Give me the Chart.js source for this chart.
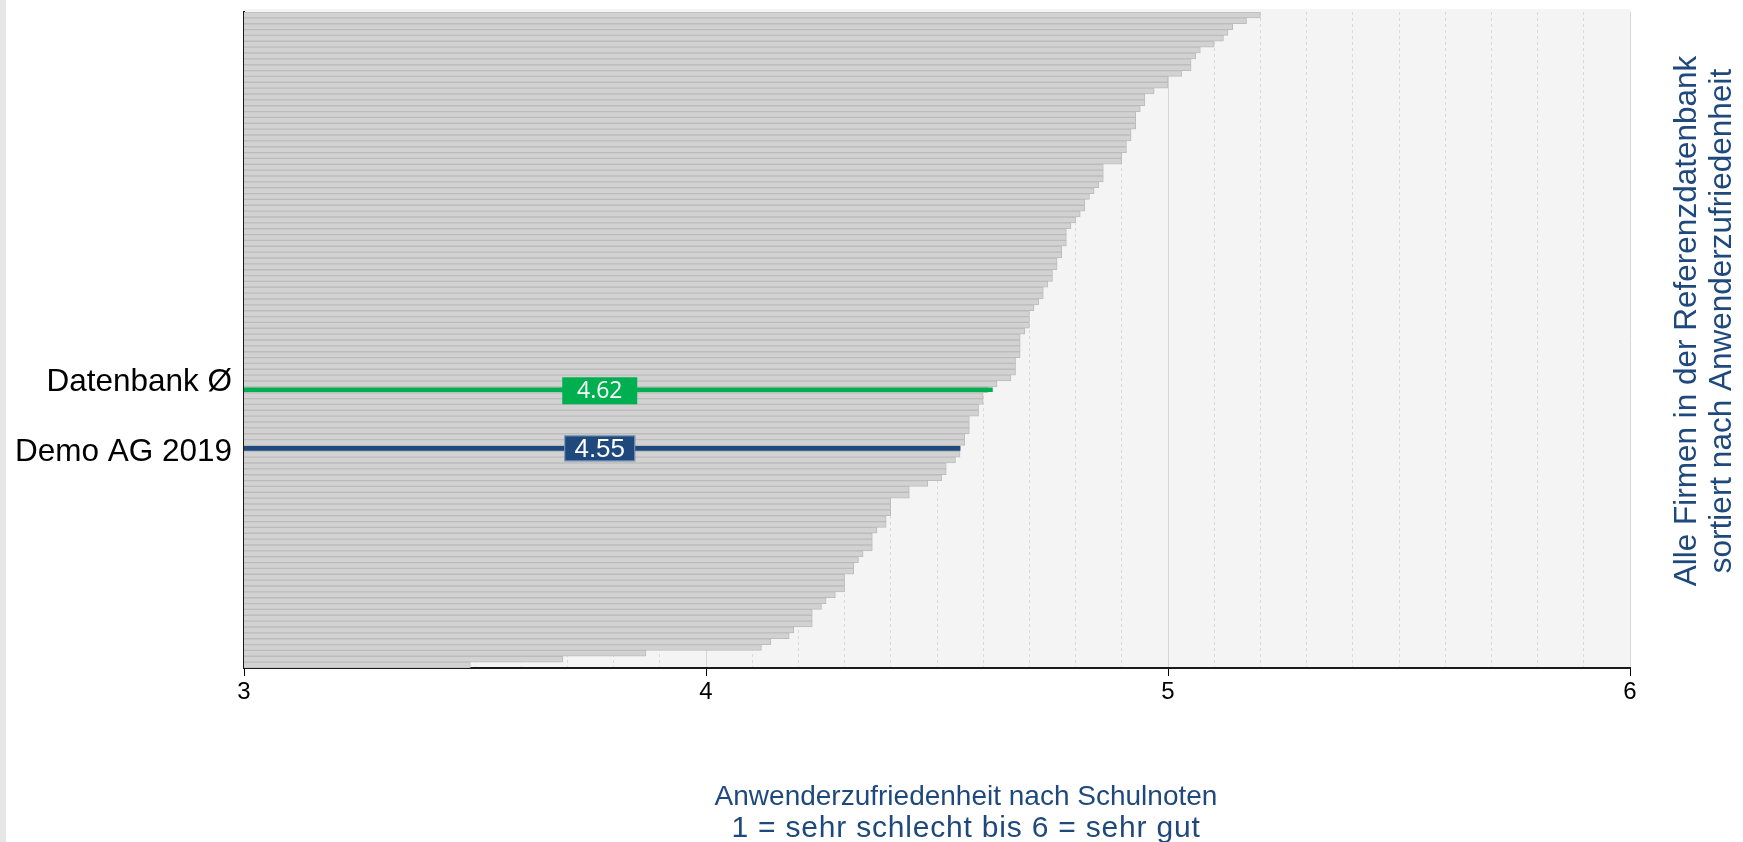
<!DOCTYPE html>
<html lang="de">
<head>
<meta charset="utf-8">
<title>Anwenderzufriedenheit</title>
<script src="https://cdn.jsdelivr.net/npm/chart.js@4.4.1/dist/chart.umd.min.js"></script>
<style>
    html, body { margin: 0; padding: 0; background: #fff; overflow: hidden; }
    #rand { position: absolute; left: 0; top: 0; width: 6px; height: 842px; background: #e6e6e6; }
    canvas { display: block; }
</style>
</head>
<body>
<div id="rand"></div>
<canvas id="graficoZufriedenheit" width="1743" height="842"></canvas>
<script>
// Werte aller Firmen der Referenzdatenbank, absteigend sortiert (oben -> unten)
const werte = [
    5.20, 5.17, 5.14, 5.13, 5.12, 5.10, 5.07, 5.06, 5.05, 5.05,
    5.03, 5.00, 5.00, 4.97, 4.95, 4.95, 4.94, 4.93, 4.93, 4.93,
    4.92, 4.92, 4.91, 4.91, 4.90, 4.90, 4.86, 4.86, 4.86, 4.85,
    4.84, 4.83, 4.82, 4.82, 4.81, 4.80, 4.79, 4.78, 4.78, 4.78,
    4.77, 4.77, 4.76, 4.76, 4.75, 4.75, 4.74, 4.73, 4.73, 4.72,
    4.71, 4.70, 4.70, 4.70, 4.69, 4.68, 4.68, 4.68, 4.68, 4.67,
    4.67, 4.67, 4.66, 4.63, 4.61, 4.60, 4.60, 4.59, 4.59, 4.57,
    4.57, 4.57, 4.56, 4.56, 4.55, 4.55, 4.54, 4.52, 4.52, 4.51,
    4.48, 4.44, 4.44, 4.40, 4.40, 4.40, 4.39, 4.39, 4.37, 4.36,
    4.36, 4.36, 4.34, 4.33, 4.32, 4.32, 4.30, 4.30, 4.30, 4.28,
    4.26, 4.25, 4.23, 4.23, 4.23, 4.19, 4.18, 4.14, 4.12, 3.87,
    3.69, 3.49
];

const datenbankSchnitt = 4.62;
const demoWert = 4.55;
const zeileDatenbank = 64;   // Zeile der Ø-Linie
const zeileDemo = 74;        // Zeile der Demo AG
const zeileLabelDatenbank = 62;

const xTicks = [3, 4, 5, 6];
const xTitel = ['Anwenderzufriedenheit nach Schulnoten', '1 = sehr schlecht bis 6 = sehr gut'];
const rechterTitel = ['Alle Firmen in der Referenzdatenbank', 'sortiert nach Anwenderzufriedenheit'];

// kategorien (leer bis auf die zwei markierten zeilen)
const kategorien = werte.map((v, i) => {
    if (i === zeileLabelDatenbank) return 'Datenbank Ø';
    if (i === zeileDemo) return 'Demo AG 2019';
    return '';
});

const linieDatenbank = werte.map((v, i) => i === zeileDatenbank ? datenbankSchnitt : null);
const linieDemo = werte.map((v, i) => i === zeileDemo ? demoWert : null);

const BLAU = '#1f497d';
const GRUEN = '#00b050';

const hintergrund = {
    id: 'hintergrund',
    beforeDraw(chart) {
        const { ctx, chartArea: a } = chart;
        ctx.save();
        ctx.fillStyle = '#f4f4f4';
        ctx.fillRect(a.left, a.top - 3, a.right - a.left, a.bottom - a.top + 3);
        ctx.restore();
    }
};

const wertLabels = {
    id: 'wertLabels',
    afterDatasetsDraw(chart) {
        const { ctx } = chart;
        const xs = chart.scales.x, ys = chart.scales.y;
        const boxen = [
            { text: datenbankSchnitt.toFixed(2), zeile: zeileDatenbank, farbe: GRUEN, w: 75, h: 27, font: '23px "Open Sans"', dy: 1 },
            { text: demoWert.toFixed(2), zeile: zeileDemo, farbe: BLAU, w: 71, h: 26, font: '26px "Liberation Sans"', dy: 0 }
        ];
        const cx = xs.getPixelForValue(3.77);
        ctx.save();
        boxen.forEach(b => {
            const cy = ys.getPixelForValue(b.zeile) + b.dy;
            ctx.fillStyle = b.farbe;
            ctx.fillRect(cx - b.w / 2, cy - b.h / 2, b.w, b.h);
            if (b.farbe === BLAU) {
                ctx.strokeStyle = 'rgba(200,215,235,0.6)';
                ctx.lineWidth = 1;
                ctx.strokeRect(cx - b.w / 2 + 0.5, cy - b.h / 2 + 0.5, b.w - 1, b.h - 1);
            }
            ctx.fillStyle = '#fff';
            ctx.font = b.font;
            ctx.textAlign = 'center';
            ctx.textBaseline = 'middle';
            ctx.fillText(b.text, cx, cy + 1);
        });
        ctx.restore();
    }
};

const titel = {
    id: 'titel',
    afterDraw(chart) {
        const { ctx, chartArea: a, height } = chart;
        ctx.save();
        ctx.fillStyle = BLAU;
        ctx.textAlign = 'center';
        ctx.textBaseline = 'middle';
        // titulo do eixo x
        ctx.font = '28px "Liberation Sans"';
        const mitte = (a.left + a.right) / 2 + 29;
        ctx.fillText(xTitel[0], mitte, height - 45);
        ctx.font = '30px "Liberation Sans"';
        ctx.letterSpacing = '0.8px';
        ctx.fillText(xTitel[1], mitte, height - 13);
        ctx.letterSpacing = '0px';
        // titulo vertical à direita
        ctx.font = '31.5px "Liberation Sans"';
        ctx.translate(a.right + 57, 321);
        ctx.rotate(-Math.PI / 2);
        ctx.fillText(rechterTitel[0], 0, 0);
        ctx.fillText(rechterTitel[1], 0, 35);
        ctx.restore();
    }
};

const istGanz = v => Math.abs(v - Math.round(v)) < 1e-6;

const ctx = document.getElementById('graficoZufriedenheit').getContext('2d');
const grafico = new Chart(ctx, {
    type: 'bar',
    data: {
        labels: kategorien,
        datasets: [{
            label: 'Datenbank Ø',
            data: linieDatenbank,
            backgroundColor: GRUEN,
            barThickness: 4,
            grouped: false,
            order: 0
        }, {
            label: 'Demo AG 2019',
            data: linieDemo,
            backgroundColor: BLAU,
            barThickness: 4,
            grouped: false,
            order: 1
        }, {
            label: 'Firmen',
            data: werte,
            backgroundColor: '#d2d2d2',
            borderColor: '#bcbcbc',
            borderWidth: 1,
            barPercentage: 1,
            categoryPercentage: 1,
            grouped: false,
            order: 2
        }]
    },
    options: {
        indexAxis: 'y',
        responsive: false,
        animation: false,
        events: [],
        layout: {
            padding: { top: 12, right: 113, bottom: 0, left: 0 }
        },
        plugins: {
            legend: { display: false },
            tooltip: { enabled: false }
        },
        scales: {
            x: {
                type: 'linear',
                min: 3,
                max: 6,
                afterFit: s => { s.height = 174; },
                ticks: {
                    stepSize: 0.1,
                    autoSkip: false,
                    maxRotation: 0,
                    padding: 2,
                    color: '#000',
                    font: { family: 'Liberation Sans', size: 24 },
                    callback: v => (istGanz(v) && xTicks.includes(Math.round(v))) ? String(Math.round(v)) : ''
                },
                grid: {
                    color: c => istGanz(c.tick.value) ? '#d6d6d6' : '#dadada',
                    lineWidth: 1,
                    tickLength: 8,
                    tickColor: c => istGanz(c.tick.value) ? '#000' : 'transparent'
                },
                border: {
                    display: true,
                    color: '#1a1a1a',
                    width: 2,
                    dash: c => (c.tick && !istGanz(c.tick.value)) ? [3, 3] : []
                }
            },
            y: {
                type: 'category',
                afterFit: s => { s.width = 244; s.paddingTop = 0; s.paddingBottom = 0; },
                ticks: {
                    autoSkip: false,
                    padding: 12,
                    labelOffset: 4,
                    color: '#000',
                    font: { family: 'Liberation Sans', size: 31.5 }
                },
                grid: { display: false, drawTicks: false },
                border: { display: true, color: '#1a1a1a', width: 2 }
            }
        }
    },
    plugins: [hintergrund, wertLabels, titel]
});
</script>
</body>
</html>
